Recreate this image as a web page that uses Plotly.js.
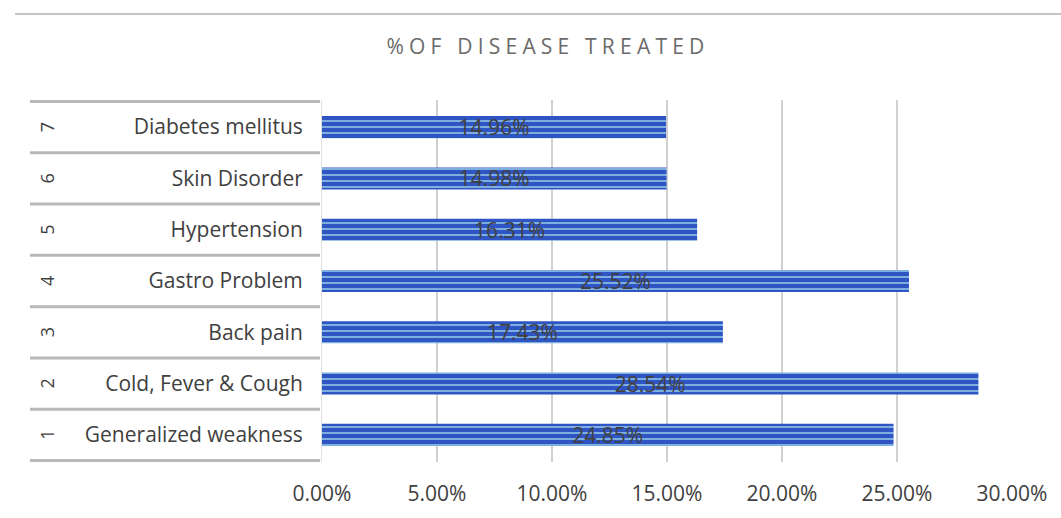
<!DOCTYPE html>
<html>
<head>
<meta charset="utf-8">
<script src="https://cdn.plot.ly/plotly-3.0.1.min.js"></script>
<style>
  html, body { margin: 0; padding: 0; background: #ffffff; }
  #chart { width: 1061px; height: 518px; }
  .gtitle { letter-spacing: 5.2px; }
</style>
</head>
<body>
<div id="chart"></div>
<script>
const rowNumbers = ["1", "2", "3", "4", "5", "6", "7"];
const diseases = ["Generalized weakness", "Cold, Fever & Cough", "Back pain", "Gastro Problem", "Hypertension", "Skin Disorder", "Diabetes mellitus"];
const percentTreated = [0.2485, 0.2854, 0.1743, 0.2552, 0.1631, 0.1498, 0.1496];
const xTickValues = [0, 0.05, 0.10, 0.15, 0.20, 0.25, 0.30];
const xTickLabels = ["0.00%", "5.00%", "10.00%", "15.00%", "20.00%", "25.00%", "30.00%"];

const FONT = "'Open Sans', 'Noto Sans', sans-serif";
const plotLeft = 322, plotRight = 49, plotTop = 100, plotBottom = 56;
const plotWidth = 1061 - plotLeft - plotRight;
const plotHeight = 518 - plotTop - plotBottom;
const toPaperX = px => (px - plotLeft) / plotWidth;
const toPaperY = py => (518 - plotBottom - py) / plotHeight;

const trace = {
  type: 'bar',
  orientation: 'h',
  y: diseases,
  x: percentTreated,
  text: percentTreated.map(v => (v * 100).toFixed(2) + '%'),
  textposition: 'inside',
  insidetextanchor: 'middle',
  constraintext: 'none',
  textangle: 0,
  textfont: { family: FONT, size: 21, color: '#404040' },
  marker: {
    color: '#2f55c4',
    line: { width: 0 },
    pattern: { shape: '-', fgcolor: '#a6dcef', bgcolor: '#2f55c4', size: 6, solidity: 0.22 }
  },
  hoverinfo: 'skip',
  cliponaxis: false
};

const shapes = [];
for (let i = 0; i <= diseases.length; i++) {
  shapes.push({
    type: 'line', xref: 'paper', yref: 'y',
    x0: toPaperX(30), x1: toPaperX(320),
    y0: i - 0.5, y1: i - 0.5,
    line: { color: '#b8b8b8', width: 3 }
  });
}
shapes.push({
  type: 'line', xref: 'paper', yref: 'paper',
  x0: toPaperX(15), x1: toPaperX(1061),
  y0: toPaperY(14), y1: toPaperY(14),
  line: { color: '#c4c4c4', width: 2 }
});

const annotations = rowNumbers.map((n, i) => ({
  xref: 'paper', yref: 'y',
  x: toPaperX(47), y: diseases[i],
  text: n, showarrow: false, textangle: -90,
  xanchor: 'center', yanchor: 'middle',
  font: { family: FONT, size: 18, color: '#404040' }
}));

const layout = {
  width: 1061, height: 518,
  margin: { l: plotLeft, r: plotRight, t: plotTop, b: plotBottom },
  paper_bgcolor: '#ffffff',
  plot_bgcolor: '#ffffff',
  showlegend: false,
  bargap: 0.57,
  title: {
    text: '%OF DISEASE TREATED',
    font: { family: FONT, size: 21, color: '#6b6b6b' },
    x: 548 / 1061, xanchor: 'center', xref: 'container',
    y: 1 - 47 / 518, yanchor: 'middle', yref: 'container'
  },
  xaxis: {
    range: [0, 0.30],
    tickvals: xTickValues,
    ticktext: xTickLabels,
    showgrid: true, gridcolor: '#d0d0d0', gridwidth: 2,
    zeroline: false, showline: false,
    ticks: '', ticklabelstandoff: 17,
    tickfont: { family: FONT, size: 21, color: '#404040' },
    fixedrange: true
  },
  yaxis: {
    type: 'category',
    categoryorder: 'array', categoryarray: diseases,
    showgrid: false, zeroline: false,
    showline: true, linecolor: '#e0e0e0', linewidth: 1,
    ticks: '', ticklabelstandoff: 14,
    tickfont: { family: FONT, size: 21, color: '#404040' },
    fixedrange: true
  },
  shapes: shapes,
  annotations: annotations
};

Plotly.newPlot('chart', [trace], layout, { displayModeBar: false, staticPlot: true });
</script>
</body>
</html>
